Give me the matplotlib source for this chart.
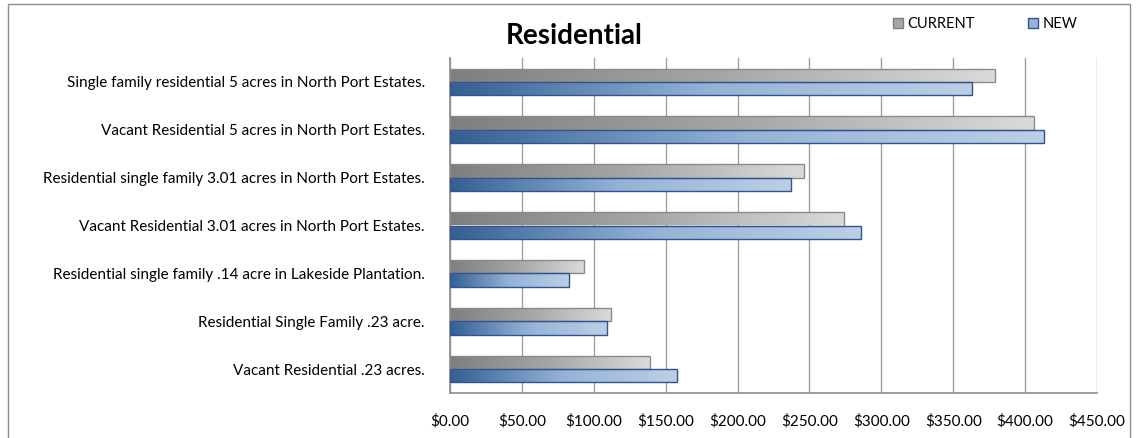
import numpy as np
import matplotlib.pyplot as plt
from matplotlib.patches import Patch, Rectangle
from matplotlib.colors import LinearSegmentedColormap

plt.rcParams['font.family'] = ['Lato', 'DejaVu Sans']

categories = ['Single family residential 5 acres in North Port Estates.',
              'Vacant Residential 5 acres in North Port Estates.',
              'Residential single family 3.01 acres in North Port Estates.',
              'Vacant Residential 3.01 acres in North Port Estates.',
              'Residential single family .14 acre in Lakeside Plantation.',
              'Residential Single Family .23 acre.',
              'Vacant Residential .23 acres.']
current = [379, 406, 246, 274, 93, 112, 139]
new = [363, 413, 237, 286, 83, 109, 158]
xticks = np.arange(0, 451, 50)
xticklabels = ['$%.2f' % v for v in xticks]

gray_cmap = LinearSegmentedColormap.from_list('g', ['#7f7f7f', '#a6a6a6', '#dadada'])
blue_cmap = LinearSegmentedColormap.from_list('b', ['#335f94', '#95b3d7', '#bccfe6'])

fig = plt.figure(figsize=(11.37, 4.38), dpi=100)
ax = fig.add_axes([450 / 1137, 1 - 393 / 438, 647 / 1137, 335 / 438])

y = np.arange(len(categories))
h = 0.28
bars_c = ax.barh(y - h / 2, current, height=h, facecolor='none', edgecolor='#8a8a8a', lw=1, zorder=3)
bars_n = ax.barh(y + h / 2, new, height=h, facecolor='none', edgecolor='#2f5590', lw=1, zorder=3)

# left-to-right gradient inside each bar
grad = np.linspace(0, 1, 256).reshape(1, -1)
for bars, cmap in [(bars_c, gray_cmap), (bars_n, blue_cmap)]:
    for p in bars:
        x0, y0 = p.get_x(), p.get_y()
        w, hh = p.get_width(), p.get_height()
        im = ax.imshow(grad, cmap=cmap, aspect='auto', extent=[x0, x0 + w, y0 + hh, y0],
                       zorder=2, interpolation='bilinear')
        im.set_clip_path(p)

ax.set_xlim(0, 450)
ax.set_ylim(len(categories) - 0.5, -0.5)
ax.set_xticks(xticks)
ax.set_xticklabels(xticklabels, fontsize=11)
ax.set_yticks(y)
ax.set_yticklabels(categories, fontsize=11)
ax.tick_params(axis='y', length=0, pad=18)
ax.tick_params(axis='x', length=0, pad=15)
ax.grid(axis='x', color='#a0a0a0', lw=1, zorder=0)
ax.set_axisbelow(True)
for s in ['top', 'right']:
    ax.spines[s].set_visible(False)
for s in ['left', 'bottom']:
    ax.spines[s].set_color('#8c8c8c')
    ax.spines[s].set_linewidth(1.2)

fig.text(574 / 1137, 1 - 36 / 438, 'Residential', fontsize=20, fontweight='bold',
         ha='center', va='center')

handles = [Patch(facecolor='#a6a6a6', edgecolor='#7f7f7f', label='CURRENT'),
           Patch(facecolor='#95b3d7', edgecolor='#2f5590', label='NEW')]
fig.legend(handles=handles, loc='center left', bbox_to_anchor=(880 / 1137, 1 - 24 / 438),
           ncol=2, frameon=False, fontsize=10.5, handlelength=0.7, handleheight=0.7,
           handletextpad=0.3, columnspacing=3.6)

fig.patches.append(Rectangle((8 / 1137, -0.1), 1122 / 1137, 1.1 - 4 / 438,
                             transform=fig.transFigure, fill=False,
                             edgecolor='#8c8c8c', lw=1))

fig.savefig('out.png', dpi=100)
